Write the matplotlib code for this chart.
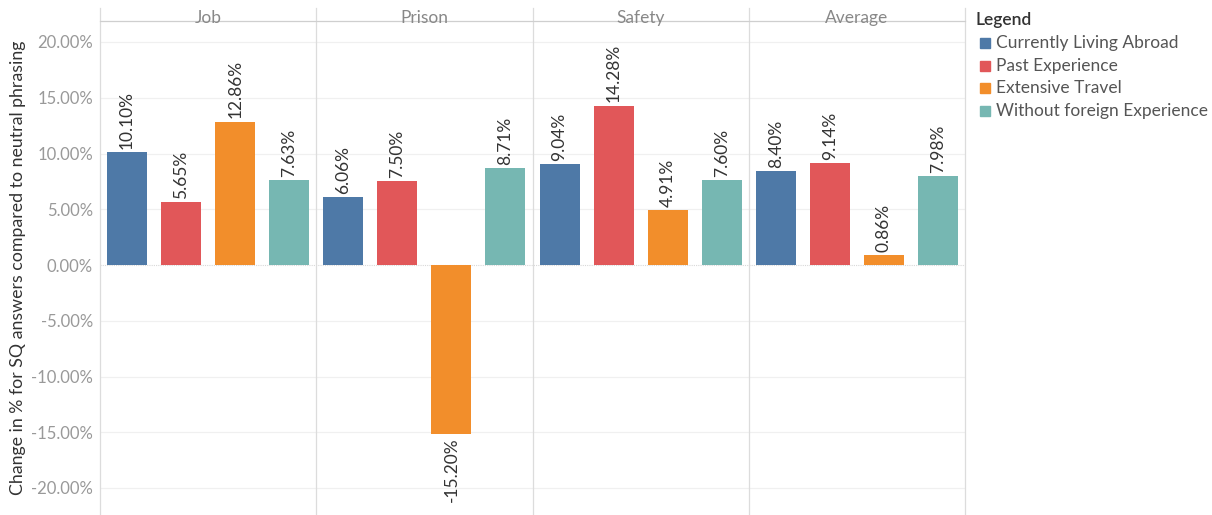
import matplotlib
matplotlib.use("Agg")
import matplotlib.pyplot as plt
from matplotlib.lines import Line2D
from matplotlib.transforms import Bbox, TransformedBbox
import numpy as np

plt.rcParams['font.family'] = ['Lato', 'DejaVu Sans']

categories = ["Job", "Prison", "Safety", "Average"]
series = ["Currently Living Abroad", "Past Experience", "Extensive Travel", "Without foreign Experience"]
colors = ["#4e79a7", "#e15759", "#f28e2b", "#76b7b2"]
currently_abroad = [10.10, 6.06, 9.04, 8.40]
past_experience = [5.65, 7.50, 14.28, 9.14]
extensive_travel = [12.86, -15.20, 4.91, 0.86]
without_foreign = [7.63, 8.71, 7.60, 7.98]
values = [currently_abroad, past_experience, extensive_travel, without_foreign]
yticks = [-20, -15, -10, -5, 0, 5, 10, 15, 20]

W, H = 1212, 515
fig = plt.figure(figsize=(W / 100, H / 100), dpi=100)
ax_left, ax_right = 100 / W, 965 / W
ax_top = 1 - 21 / H
ax = fig.add_axes([ax_left, 0, ax_right - ax_left, ax_top])

n_s = len(series)
for ci, cat in enumerate(categories):
    for si in range(n_s):
        v = values[si][ci]
        x = ci * n_s + si + 0.5
        ax.bar(x, v, width=0.74, color=colors[si], zorder=3)
        if v >= 0:
            ax.text(x, v + 0.3, f"{v:.2f}%", rotation=90, ha='center', va='bottom',
                    fontsize=12.5, color='#333333', zorder=4)
        else:
            ax.text(x, v - 0.3, f"{v:.2f}%", rotation=90, ha='center', va='top',
                    fontsize=12.5, color='#333333', zorder=4)

ymin = -(515 - 265) / 11.15
ymax = (265 - 21) / 11.15
ax.set_ylim(ymin, ymax)
ax.set_xlim(0, n_s * len(categories))
ax.set_yticks(yticks)
ax.set_yticklabels([f"{t:.2f}%" for t in yticks], fontsize=12, color='#999999')
ax.tick_params(axis='y', length=0, pad=5)
ax.set_xticks([])
for t in yticks:
    if t != 0:
        ax.axhline(t, color='#f0f0f0', lw=0.9, zorder=1)
ax.axhline(0, color='#d8d8d8', lw=0.8, ls=(0, (1, 1)), zorder=2)
for s in ['top', 'right', 'bottom', 'left']:
    ax.spines[s].set_visible(False)

ax.set_ylabel("Change in % for SQ answers compared to neutral phrasing", fontsize=12.8,
              color='#333333')
ax.yaxis.set_label_coords((18 - 100) / 865, 0.5)
ax.yaxis.label.set_va('center')

# panel dividers and header
line_top = 1 - 8 / H
for ci in range(len(categories) + 1):
    xf = ax_left + (ax_right - ax_left) * ci / len(categories)
    fig.add_artist(Line2D([xf, xf], [0, line_top], transform=fig.transFigure,
                          color='#dcdcdc', lw=0.9))
fig.add_artist(Line2D([ax_left, ax_right], [ax_top, ax_top], transform=fig.transFigure,
                      color='#cfcfcf', lw=0.9))
clip = TransformedBbox(Bbox([[0, 0], [1, 1 - 8 / H]]), fig.transFigure)
for ci, cat in enumerate(categories):
    xf = ax_left + (ax_right - ax_left) * (ci + 0.5) / len(categories)
    t = fig.text(xf, 1 - 23 / H, cat, ha='center', va='baseline', fontsize=12.5, color='#888888')
    t.set_clip_box(clip)
    t.set_clip_on(True)

# legend
fig.text(975 / W, 1 - 20 / H, "Legend", ha='left', va='center', fontsize=12.5,
         color='#333333', fontweight='semibold')
for si, name in enumerate(series):
    yy = 1 - (43 + si * 22.7) / H
    fig.add_artist(Line2D([985 / W], [yy], transform=fig.transFigure, marker='s',
                          markersize=7.5, color=colors[si], lw=0))
    fig.text(996 / W, yy, name, ha='left', va='center', fontsize=12.5, color='#555555')

fig.savefig("out.png", dpi=100)
